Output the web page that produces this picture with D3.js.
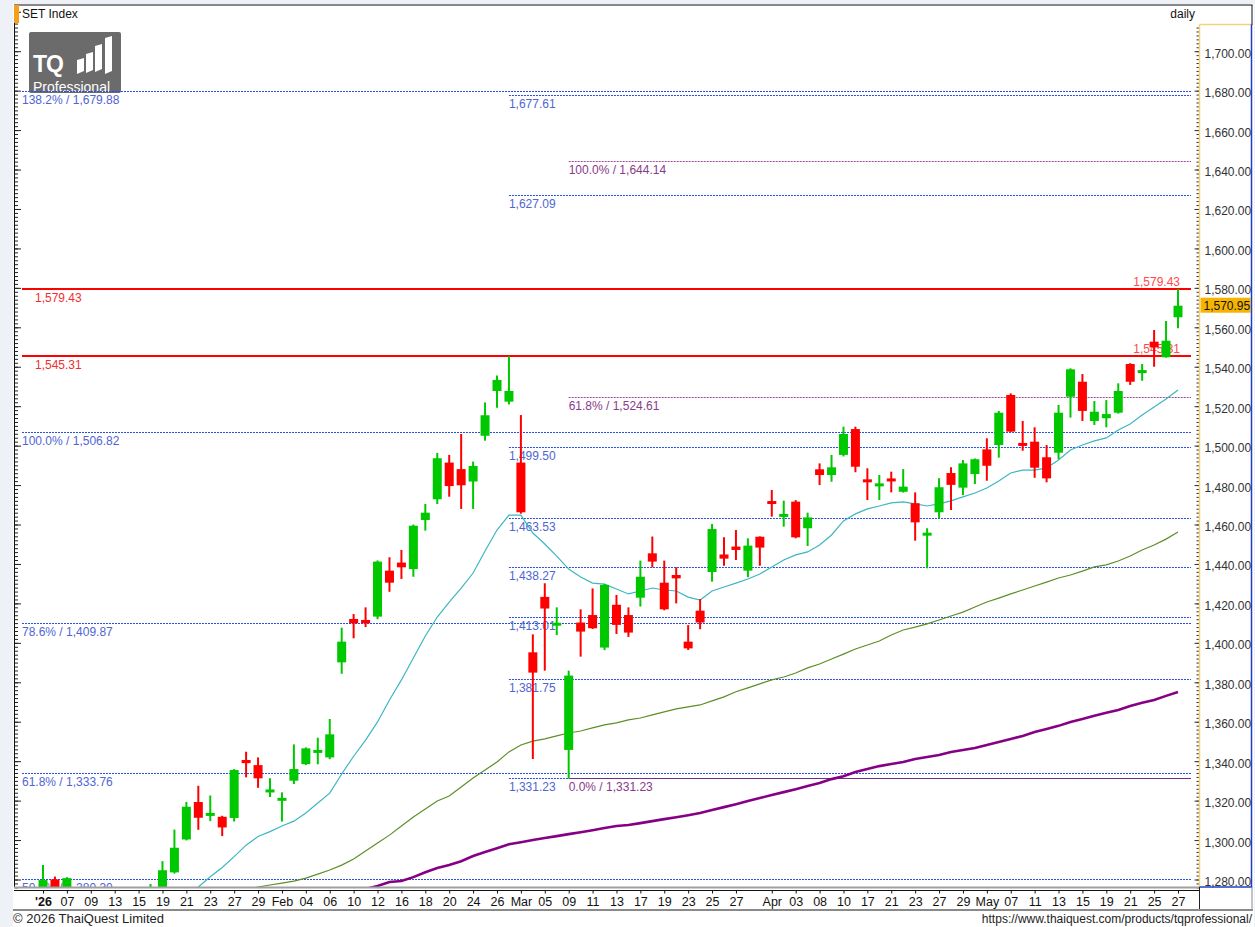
<!DOCTYPE html>
<html>
<head>
<meta charset="utf-8">
<script src="https://cdn.jsdelivr.net/npm/d3@7"></script>
<style>
body { margin: 0; background: #eef2f7; }
svg { display: block; font-family: "Liberation Sans", Arial, sans-serif; }
</style>
</head>
<body>
<script>
const width = 1255;
const height = 927;
const plot = {left: 15, right: 1195, top: 5, bottom: 887};
const green = '#00c800';
const red = '#ff0000';

// trading days shown on the chart
const dates = [
    '2026-01-05','2026-01-06','2026-01-07','2026-01-08','2026-01-09','2026-01-12','2026-01-13','2026-01-14','2026-01-15','2026-01-16',
    '2026-01-19','2026-01-20','2026-01-21','2026-01-22','2026-01-23','2026-01-26','2026-01-27','2026-01-28','2026-01-29','2026-01-30',
    '2026-02-02','2026-02-03','2026-02-04','2026-02-05','2026-02-06','2026-02-09','2026-02-10','2026-02-11','2026-02-12','2026-02-13',
    '2026-02-16','2026-02-17','2026-02-18','2026-02-19','2026-02-20','2026-02-23','2026-02-24','2026-02-25','2026-02-26','2026-02-27',
    '2026-03-02','2026-03-04','2026-03-05','2026-03-06','2026-03-09','2026-03-10','2026-03-11','2026-03-12','2026-03-13','2026-03-16',
    '2026-03-17','2026-03-18','2026-03-19','2026-03-20','2026-03-23','2026-03-24','2026-03-25','2026-03-26','2026-03-27','2026-03-30',
    '2026-03-31','2026-04-01','2026-04-02','2026-04-03','2026-04-07','2026-04-08','2026-04-09','2026-04-10','2026-04-16','2026-04-17',
    '2026-04-20','2026-04-21','2026-04-22','2026-04-23','2026-04-24','2026-04-27','2026-04-28','2026-04-29','2026-04-30','2026-05-05',
    '2026-05-06','2026-05-07','2026-05-08','2026-05-11','2026-05-12','2026-05-13','2026-05-14','2026-05-15','2026-05-18','2026-05-19',
    '2026-05-20','2026-05-21','2026-05-22','2026-05-25','2026-05-26','2026-05-27'
];

const open = [
    1268, 1280, 1270, 1272, 1265, 1262, 1266, 1263, 1268, 1263,
    1268, 1283.6, 1300.3, 1319.3, 1312.5, 1311.8, 1311.2, 1340.6, 1338.0, 1324.5,
    1320.3, 1330.1, 1338.5, 1344.3, 1341.9, 1390.1, 1412.1, 1411.6, 1413.3, 1436.6,
    1440.7, 1437.4, 1462.3, 1472.8, 1491.4, 1488.1, 1481.8, 1505.0, 1527.7, 1522.3,
    1491.4, 1395.2, 1423.3, 1409.0, 1345.7, 1410.3, 1414.1, 1397.6, 1419.3, 1414.1,
    1422.9, 1445.4, 1430.5, 1434.4, 1400.6, 1416.3, 1435.9, 1444.8, 1448.8, 1436.6,
    1453.8, 1471.6, 1464.0, 1471.6, 1458.1, 1488.0, 1485.1, 1495.3, 1508.4, 1482.6,
    1479.7, 1483.0, 1476.6, 1470.8, 1454.7, 1466.2, 1486.1, 1478.7, 1485.6, 1498.1,
    1500.3, 1525.7, 1501.2, 1502.0, 1494.1, 1496.4, 1524.8, 1532.4, 1512.5, 1513.9,
    1516.7, 1541.4, 1537.2, 1552.7, 1544.8, 1565.1
];
const high = [
    1287.3, 1281.5, 1281.2, 1275, 1270, 1268, 1272, 1270, 1274, 1277.7,
    1289.3, 1305.3, 1319.3, 1327.5, 1322.6, 1312.3, 1336.0, 1344.8, 1341.9, 1331.3,
    1324.2, 1348.5, 1347.0, 1351.9, 1361.4, 1407.7, 1414.6, 1418.0, 1441.8, 1443.4,
    1447.1, 1460.0, 1470.4, 1496.3, 1495.3, 1505.9, 1491.9, 1521.9, 1535.5, 1545.31,
    1515.5, 1404.3, 1430.2, 1418.0, 1385.9, 1417.0, 1427.6, 1429.9, 1424.3, 1418.0,
    1441.7, 1453.9, 1441.7, 1438.3, 1409.0, 1422.2, 1460.3, 1453.5, 1457.2, 1453.0,
    1454.0, 1477.5, 1472.1, 1472.4, 1466.0, 1491.0, 1495.3, 1509.6, 1509.6, 1488.5,
    1485.1, 1486.8, 1488.1, 1476.3, 1458.1, 1483.5, 1489.0, 1492.7, 1493.5, 1503.7,
    1517.6, 1526.5, 1512.5, 1509.3, 1500.3, 1520.6, 1539.2, 1536.3, 1522.6, 1523.1,
    1531.6, 1541.8, 1541.4, 1558.6, 1563.2, 1579.43
];
const low = [
    1262, 1266, 1265, 1262, 1258, 1255, 1260, 1258, 1263, 1260,
    1265, 1283.0, 1299.8, 1305.2, 1309.6, 1302.0, 1309.4, 1331.8, 1326.5, 1321.8,
    1309.4, 1328.4, 1338.0, 1338.4, 1341.0, 1384.3, 1402.3, 1408.0, 1412.0, 1425.9,
    1432.4, 1433.5, 1456.9, 1470.4, 1474.1, 1467.9, 1467.9, 1502.5, 1519.2, 1520.9,
    1465.5, 1341.1, 1385.9, 1403.9, 1331.23, 1393.0, 1407.0, 1396.3, 1404.5, 1403.0,
    1418.4, 1438.3, 1416.5, 1420.0, 1396.4, 1406.9, 1431.0, 1439.1, 1442.0, 1433.3,
    1439.1, 1464.0, 1458.9, 1453.0, 1449.1, 1480.0, 1481.7, 1494.5, 1486.5, 1472.4,
    1472.4, 1476.3, 1476.2, 1451.8, 1437.8, 1463.1, 1467.4, 1474.9, 1480.5, 1482.2,
    1493.9, 1507.0, 1497.4, 1483.7, 1481.4, 1493.1, 1514.2, 1512.5, 1510.5, 1509.3,
    1516.2, 1530.8, 1532.9, 1540.0, 1544.6, 1559.5
];
const close = [
    1279.7, 1270, 1280.7, 1265, 1262, 1266, 1263, 1268, 1265, 1272,
    1284.7, 1296.1, 1316.9, 1311.3, 1313.5, 1306.4, 1335.5, 1339.0, 1331.3, 1325.3,
    1321.0, 1336.0, 1346.5, 1345.6, 1353.6, 1400.6, 1409.9, 1409.9, 1441.2, 1430.5,
    1438.3, 1459.4, 1466.0, 1493.6, 1479.5, 1479.9, 1489.7, 1515.4, 1533.3, 1527.7,
    1466.2, 1384.9, 1417.4, 1409.9, 1383.4, 1405.7, 1407.4, 1429.4, 1409.1, 1405.2,
    1433.5, 1441.2, 1417.0, 1432.7, 1397.2, 1410.3, 1457.7, 1442.7, 1447.1, 1449.3,
    1448.3, 1470.7, 1465.2, 1453.5, 1463.6, 1485.1, 1489.0, 1505.9, 1489.3, 1481.7,
    1480.5, 1482.2, 1479.2, 1461.1, 1455.5, 1478.9, 1480.1, 1491.0, 1493.1, 1489.8,
    1516.7, 1507.1, 1500.0, 1488.8, 1483.4, 1516.7, 1538.7, 1517.6, 1517.2, 1516.0,
    1527.7, 1532.4, 1537.9, 1549.8, 1553.2, 1570.95
];

// moving averages (null = not visible)
const maShort = [
    null, null, null, null, null, null, null, null, null, null,
    null, null, 1271.0, 1276.2, 1281.4, 1286.1, 1291.6, 1297.4, 1301.8, 1304.3,
    1307.1, 1309.6, 1313.7, 1318.8, 1323.8, 1333.5, 1342.5, 1350.7, 1359.9, 1371.0,
    1381.2, 1392.3, 1403.5, 1413.1, 1420.7, 1427.8, 1435.4, 1446.6, 1457.2, 1464.8,
    1464.8, 1455.7, 1450.1, 1444.0, 1437.4, 1433.4, 1430.3, 1429.8, 1427.3, 1424.8,
    1426.3, 1427.8, 1426.8, 1426.3, 1423.2, 1421.7, 1426.3, 1428.3, 1430.3, 1432.4,
    1434.9, 1438.5, 1442.0, 1444.6, 1446.1, 1449.6, 1454.7, 1461.8, 1465.4, 1467.9,
    1469.4, 1471.0, 1471.5, 1470.5, 1469.4, 1470.5, 1472.0, 1474.0, 1476.0, 1478.5,
    1482.1, 1486.1, 1487.6, 1487.6, 1488.7, 1492.7, 1497.8, 1500.3, 1502.4, 1503.9,
    1507.9, 1511.0, 1515.5, 1519.6, 1523.6, 1528.2
];
const maMid = [
    null, null, null, null, null, null, null, null, null, null,
    null, null, null, null, null, null, 1273.0, 1275.0, 1276.2, 1277.2,
    1278.2, 1279.2, 1280.7, 1282.7, 1284.8, 1287.3, 1290.4, 1294.4, 1298.5, 1302.5,
    1307.1, 1311.7, 1315.7, 1319.8, 1322.3, 1326.9, 1331.5, 1335.5, 1339.6, 1344.7,
    1348.2, 1350.2, 1351.3, 1352.8, 1354.3, 1355.3, 1356.9, 1358.4, 1359.4, 1360.9,
    1361.9, 1363.5, 1365.0, 1366.5, 1367.5, 1368.5, 1370.6, 1372.6, 1375.2, 1377.2,
    1379.2, 1381.2, 1382.7, 1384.7, 1387.3, 1389.3, 1391.8, 1394.3, 1396.9, 1398.9,
    1400.9, 1404.0, 1406.5, 1408.0, 1409.6, 1411.6, 1413.6, 1415.6, 1418.2, 1420.7,
    1422.7, 1424.8, 1426.8, 1428.8, 1430.8, 1432.9, 1434.4, 1436.4, 1438.5, 1439.5,
    1441.5, 1444.0, 1447.1, 1449.6, 1452.6, 1456.2
];
const maLong = [
    null, null, null, null, null, null, null, null, null, null,
    null, null, null, null, null, null, null, null, null, null,
    null, null, null, null, null, null, 1273.5, 1275.2, 1276.7, 1278.7,
    1279.2, 1281.2, 1283.7, 1285.8, 1287.3, 1289.3, 1291.9, 1293.9, 1295.9, 1297.9,
    1298.9, 1300.0, 1301.0, 1302.0, 1303.0, 1304.0, 1305.0, 1306.1, 1307.1, 1307.6,
    1308.6, 1309.6, 1310.6, 1311.6, 1312.6, 1313.7, 1315.2, 1316.7, 1318.2, 1319.8,
    1321.3, 1322.8, 1324.3, 1325.8, 1327.4, 1328.9, 1330.9, 1332.4, 1334.5, 1336.0,
    1337.5, 1338.6, 1339.6, 1341.1, 1342.1, 1343.1, 1344.7, 1345.7, 1346.7, 1348.2,
    1349.7, 1351.3, 1352.8, 1354.8, 1356.3, 1357.9, 1359.9, 1361.4, 1363.0, 1364.5,
    1366.0, 1368.0, 1369.6, 1371.0, 1373.1, 1375.1
];

// date axis labels
const tickDates = [
    '2026-01-05','2026-01-07','2026-01-09','2026-01-13','2026-01-15','2026-01-19','2026-01-21','2026-01-23','2026-01-27','2026-01-29',
    '2026-02-02','2026-02-04','2026-02-06','2026-02-10','2026-02-12','2026-02-16','2026-02-18','2026-02-20','2026-02-24','2026-02-26',
    '2026-03-02','2026-03-05','2026-03-09','2026-03-11','2026-03-13','2026-03-17','2026-03-19','2026-03-23','2026-03-25','2026-03-27',
    '2026-04-01','2026-04-03','2026-04-08','2026-04-10','2026-04-17','2026-04-21','2026-04-23','2026-04-27','2026-04-29',
    '2026-05-05','2026-05-07','2026-05-11','2026-05-13','2026-05-15','2026-05-19','2026-05-21','2026-05-25','2026-05-27'
];
const tickLabels = [
    "'26",'07','09','13','15','19','21','23','27','29',
    'Feb','04','06','10','12','16','18','20','24','26',
    'Mar','05','09','11','13','17','19','23','25','27',
    'Apr','03','08','10','17','21','23','27','29',
    'May','07','11','13','15','19','21','25','27'
];

// Fibonacci / level lines
const fibLeftPct = ['138.2%', '100.0%', '78.6%', '61.8%', '50.0%'];
const fibLeftVal = [1679.88, 1506.82, 1409.87, 1333.76, 1280.30];
const fibMidVal = [1677.61, 1627.09, 1499.50, 1463.53, 1438.27, 1413.01, 1381.75, 1331.23];
const fibRightPct = ['100.0%', '61.8%', '0.0%'];
const fibRightVal = [1644.14, 1524.61, 1331.23];
const redLevels = [1579.43, 1545.31];
const lastPrice = 1570.95;

const svg = d3.select('body')
    .append('svg')
        .attr('width', width)
        .attr('height', height);

svg.append('rect')
    .attr('x', 13).attr('y', 4)
    .attr('width', 1241).attr('height', 923)
    .attr('fill', '#fff');

const x = d3.scalePoint()
    .domain(dates)
    .range([43, 1178]);
const y = d3.scaleLinear()
    .domain([1280, 1700])
    .range([879.5, 51.2]);

// snap a horizontal line to the pixel grid
const crisp = v => Math.round(v) + 0.5;

svg.append('clipPath').attr('id', 'plotclip')
    .append('rect')
        .attr('x', plot.left).attr('y', plot.top)
        .attr('width', plot.right - plot.left)
        .attr('height', plot.bottom - plot.top);

const chart = svg.append('g').attr('clip-path', 'url(#plotclip)');

// logo
const logo = chart.append('g').attr('transform', 'translate(29,32)');
logo.append('rect')
    .attr('width', 92).attr('height', 61).attr('rx', 2)
    .attr('fill', '#6b6b6b');
logo.append('text')
    .attr('x', 4).attr('y', 40)
    .attr('fill', '#fff')
    .style('font-size', '23px').style('font-weight', 'bold')
    .style('letter-spacing', '-1px')
    .text('TQ');
[[48, 26, 42], [57, 20, 41], [66, 12, 40], [76, 4, 42]].forEach(b => {
    logo.append('polygon')
        .attr('points', `${b[0]},${b[1] + 2} ${b[0] + 7},${b[1]} ${b[0] + 7},${b[2] - 3} ${b[0]},${b[2]}`)
        .attr('fill', '#fff');
});
logo.append('text')
    .attr('x', 4).attr('y', 60)
    .attr('fill', '#fff')
    .style('font-size', '14px')
    .text('Professional');

// left fib set
fibLeftVal.forEach((v, i) => {
    chart.append('line')
        .attr('x1', 22).attr('x2', 1191)
        .attr('y1', crisp(y(v))).attr('y2', crisp(y(v)))
        .attr('stroke', '#2a4fe0').attr('stroke-dasharray', '2,1');
    chart.append('text')
        .attr('x', 22).attr('y', y(v) + 13)
        .attr('fill', '#4f66d2').style('font-size', '12px')
        .text(`${fibLeftPct[i]} / ${d3.format(',.2f')(v)}`);
});

// middle fib set, from Feb 27 high
fibMidVal.forEach(v => {
    chart.append('line')
        .attr('x1', x('2026-02-27')).attr('x2', 1191)
        .attr('y1', crisp(y(v))).attr('y2', crisp(y(v)))
        .attr('stroke', '#2a4fe0').attr('stroke-dasharray', '2,1');
    chart.append('text')
        .attr('x', x('2026-02-27')).attr('y', y(v) + 13)
        .attr('fill', '#4f66d2').style('font-size', '12px')
        .text(d3.format(',.2f')(v));
});

// right fib set, from Mar 09 low
fibRightVal.forEach((v, i) => {
    const last = i === fibRightVal.length - 1;
    chart.append('line')
        .attr('x1', x('2026-03-09')).attr('x2', 1191)
        .attr('y1', crisp(y(v))).attr('y2', crisp(y(v)))
        .attr('stroke', last ? '#6a2f86' : '#a04ca0')
        .attr('stroke-dasharray', last ? null : '2,1');
    chart.append('text')
        .attr('x', x('2026-03-09')).attr('y', y(v) + 13)
        .attr('fill', '#8a3a8a').style('font-size', '12px')
        .text(`${fibRightPct[i]} / ${d3.format(',.2f')(v)}`);
});

// moving averages
const maLine = arr => d3.line()
    .defined(d => arr[d] !== null)
    .x(d => x(dates[d]))
    .y(d => y(arr[d]))(d3.range(dates.length));

chart.append('path').attr('d', maLine(maLong))
    .attr('fill', 'none').attr('stroke', '#860086').attr('stroke-width', 2.6);
chart.append('path').attr('d', maLine(maMid))
    .attr('fill', 'none').attr('stroke', '#5e8e28').attr('stroke-width', 1.2);
chart.append('path').attr('d', maLine(maShort))
    .attr('fill', 'none').attr('stroke', '#3db6c2').attr('stroke-width', 1.2);

// red horizontal levels
redLevels.forEach(v => {
    chart.append('line')
        .attr('x1', 22).attr('x2', 1191)
        .attr('y1', Math.round(y(v))).attr('y2', Math.round(y(v)))
        .attr('stroke', red).attr('stroke-width', 2);
    chart.append('text')
        .attr('x', 35).attr('y', y(v) + 13)
        .attr('fill', '#f03030').style('font-size', '12px')
        .text(d3.format(',.2f')(v));
    chart.append('text')
        .attr('x', 1180).attr('y', y(v) - 3)
        .attr('text-anchor', 'end')
        .attr('fill', '#ff4a4a').style('font-size', '12px')
        .text(d3.format(',.2f')(v));
});

// candles
const candles = dates.map((d, i) => ({d, o: open[i], h: high[i], l: low[i], c: close[i]}));
const cg = chart.append('g').selectAll('g')
    .data(candles)
    .join('g')
        .attr('fill', d => d.c >= d.o ? green : red)
        .attr('stroke', d => d.c >= d.o ? green : red);
cg.append('line')
    .attr('x1', d => x(d.d)).attr('x2', d => x(d.d))
    .attr('y1', d => y(d.h)).attr('y2', d => y(d.l))
    .attr('stroke-width', 2);
cg.append('rect')
    .attr('x', d => x(d.d) - 4.5)
    .attr('width', 9)
    .attr('y', d => {
        const t = y(Math.max(d.o, d.c)), hgt = Math.abs(y(d.o) - y(d.c));
        return hgt < 3 ? (t + hgt / 2 - 1.5) : t;
    })
    .attr('height', d => Math.max(3, Math.abs(y(d.o) - y(d.c))))
    .attr('stroke', 'none');

// left axis ticks
const leftMinor = d3.axisRight(y).tickValues(d3.range(1276, 1724, 2)).tickSize(3).tickFormat('');
const leftMajor = d3.axisRight(y).tickValues(d3.range(1280, 1721, 20)).tickSize(6).tickFormat('');
[leftMinor, leftMajor].forEach(ax => {
    svg.append('g').attr('transform', `translate(${plot.left},0)`).call(ax)
        .call(g => g.select('.domain').remove())
        .selectAll('line').attr('stroke', '#222');
});

// price axis box
const boxL = 1199.5, boxR = 1251.5, boxT = 24.5, boxB = 887;
const rightMinor = d3.axisLeft(y).tickValues(d3.range(1276, 1714, 2)).tickSize(3).tickFormat('');
const rightMajor = d3.axisLeft(y).tickValues(d3.range(1280, 1711, 20)).tickSize(5).tickFormat('');
[rightMinor, rightMajor].forEach(ax => {
    svg.append('g').attr('transform', `translate(${boxL},0)`).call(ax)
        .call(g => g.select('.domain').remove())
        .selectAll('line').attr('stroke', '#333');
});
const rightLabels = d3.axisRight(y).tickValues(d3.range(1280, 1701, 20))
    .tickSize(0).tickPadding(5).tickFormat(d3.format(',.2f'));
svg.append('g').attr('transform', `translate(${boxL},0)`).call(rightLabels)
    .call(g => g.select('.domain').remove())
    .selectAll('text')
        .attr('dy', '0.5em')
        .attr('fill', '#333')
        .style('font-size', '12px')
        .style('font-family', '"Liberation Sans", Arial, sans-serif');

svg.append('rect')
    .attr('x', boxL + 1).attr('y', y(lastPrice) - 8)
    .attr('width', boxR - boxL - 2).attr('height', 15)
    .attr('fill', '#f6b400');
svg.append('text')
    .attr('x', boxL + 4).attr('y', y(lastPrice) + 4)
    .attr('fill', '#111').style('font-size', '12px')
    .text(d3.format(',.2f')(lastPrice));

svg.append('line').attr('x1', boxL).attr('x2', boxL).attr('y1', boxT).attr('y2', boxB)
    .attr('stroke', '#f2d27a').attr('stroke-width', 1.5);
svg.append('line').attr('x1', boxL).attr('x2', boxR).attr('y1', boxT).attr('y2', boxT)
    .attr('stroke', '#f2d27a').attr('stroke-width', 1.5);
svg.append('line').attr('x1', boxR).attr('x2', boxR).attr('y1', boxT).attr('y2', boxB)
    .attr('stroke', '#1f3fc0').attr('stroke-width', 1.5);
svg.append('line').attr('x1', boxL).attr('x2', boxR + 0.7).attr('y1', boxB).attr('y2', boxB)
    .attr('stroke', '#1f3fc0').attr('stroke-width', 1.5);

// header
svg.append('line').attr('x1', 14).attr('x2', 1252.5).attr('y1', 5).attr('y2', 5).attr('stroke', '#111');
svg.append('line').attr('x1', 14.5).attr('x2', 14.5).attr('y1', 5).attr('y2', 888).attr('stroke', '#111');
svg.append('line').attr('x1', 1252).attr('x2', 1252).attr('y1', 5).attr('y2', 25).attr('stroke', '#111');
svg.append('rect').attr('x', 14).attr('y', 5).attr('width', 5).attr('height', 18).attr('fill', '#f6a01a');
svg.append('text').attr('x', 22).attr('y', 18).style('font-size', '12px').attr('fill', '#111').text('SET Index');
svg.append('text').attr('x', 1195).attr('y', 18).attr('text-anchor', 'end')
    .style('font-size', '12px').attr('fill', '#111').text('daily');

// date axis
svg.append('line').attr('x1', 14).attr('x2', boxL).attr('y1', 887.5).attr('y2', 887.5)
    .attr('stroke', '#a0a0a0').attr('stroke-width', 2);
const xAxis = d3.axisBottom(x)
    .tickValues(tickDates)
    .tickSize(3)
    .tickPadding(4)
    .tickFormat(d => tickLabels[tickDates.indexOf(d)]);
svg.append('g')
    .attr('transform', 'translate(0,890.5)')
    .call(xAxis)
    .call(g => g.select('.domain').attr('d', `M14,0H${boxL}`).attr('stroke', '#111'))
    .call(g => g.selectAll('line').attr('stroke', '#111'))
    .selectAll('text')
        .attr('fill', '#111')
        .style('font-size', '12.5px')
        .style('font-family', '"Liberation Sans", Arial, sans-serif')
        .style('font-weight', d => d === tickDates[0] ? 'bold' : 'normal');
svg.append('line').attr('x1', boxL).attr('x2', boxL).attr('y1', 887).attr('y2', 910).attr('stroke', '#222');
svg.append('line').attr('x1', 1252).attr('x2', 1252).attr('y1', 887).attr('y2', 910).attr('stroke', '#888');
svg.append('line').attr('x1', 13).attr('x2', 1253).attr('y1', 910).attr('y2', 910)
    .attr('stroke', '#8a8a8a').attr('stroke-width', 2);

// footer
svg.append('text').attr('x', 13).attr('y', 923)
    .style('font-size', '13px').attr('fill', '#222')
    .text('© 2026 ThaiQuest Limited');
svg.append('text').attr('x', 1252).attr('y', 923).attr('text-anchor', 'end')
    .style('font-size', '12px').attr('fill', '#222')
    .text('https://www.thaiquest.com/products/tqprofessional/');
</script>
</body>
</html>
